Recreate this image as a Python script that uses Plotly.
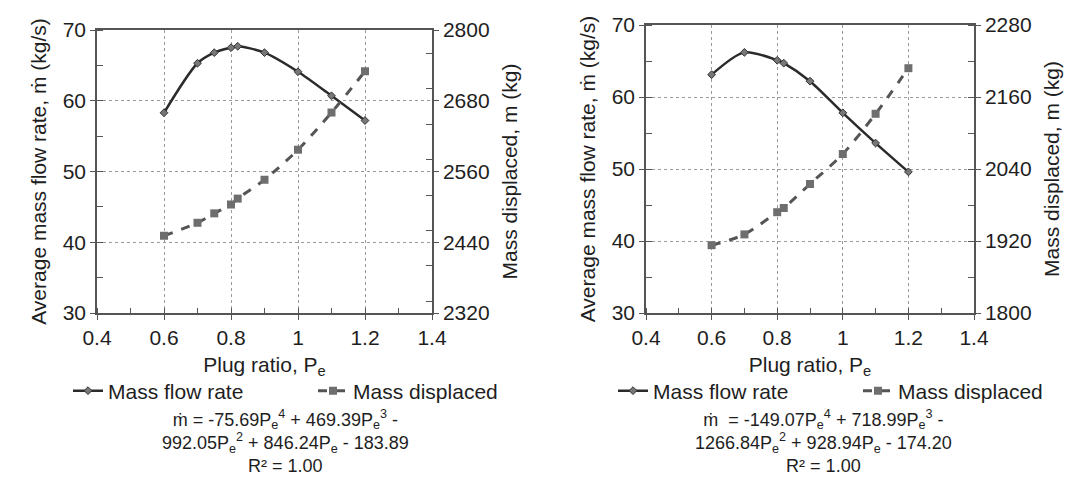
import plotly.graph_objects as go

# ---------------- data ----------------
pe_left = [0.6, 0.7, 0.75, 0.8, 0.82, 0.9, 1.0, 1.1, 1.2]
flow_left = [58.3, 65.3, 66.8, 67.5, 67.7, 66.8, 64.1, 60.7, 57.2]
disp_left = [2451, 2473, 2489, 2504, 2514, 2546, 2597, 2660, 2730]

pe_right = [0.6, 0.7, 0.8, 0.82, 0.9, 1.0, 1.1, 1.2]
flow_right = [63.1, 66.2, 65.1, 64.7, 62.2, 57.8, 53.6, 49.6]
disp_right = [1913, 1931, 1968, 1975, 2015, 2065, 2132, 2208]

x_ticks = [0.4, 0.6, 0.8, 1.0, 1.2, 1.4]
x_ticklabels = ["0.4", "0.6", "0.8", "1", "1.2", "1.4"]
y_ticks = [30, 40, 50, 60, 70]
y2_left_ticks = [2320, 2440, 2560, 2680, 2800]
y2_right_ticks = [1800, 1920, 2040, 2160, 2280]

eq_left = ("ṁ = -75.69P<sub>e</sub><sup>4</sup> + 469.39P<sub>e</sub><sup>3</sup> -<br>"
           "992.05P<sub>e</sub><sup>2</sup> + 846.24P<sub>e</sub> - 183.89<br>R² = 1.00")
eq_right = ("ṁ  = -149.07P<sub>e</sub><sup>4</sup> + 718.99P<sub>e</sub><sup>3</sup> -<br>"
            "1266.84P<sub>e</sub><sup>2</sup> + 928.94P<sub>e</sub> - 174.20<br>R² = 1.00")

# ---------------- styling ----------------
W, H = 1084, 480
FONT = "Liberation Sans, Arial, sans-serif"
TXT = "#1e1e1e"
AX = "#555555"
GRID = "#9a9a9a"

def px_x(p):
    return p / W

def px_y(p):
    return 1 - p / H

fig = go.Figure()

flow_line = dict(color="#2b2b2b", width=2.5, shape="spline", smoothing=0.8)
flow_marker = dict(symbol="diamond", size=6, color="#777777", line=dict(color="#333333", width=1))
disp_line = dict(color="#555555", width=3, dash="dash", shape="spline", smoothing=0.8)
disp_marker = dict(symbol="square", size=8, color="#6e6e6e")

fig.add_trace(go.Scatter(x=pe_left, y=flow_left, name="Mass flow rate", mode="lines+markers",
                         line=flow_line, marker=flow_marker, xaxis="x", yaxis="y", legend="legend"))
fig.add_trace(go.Scatter(x=pe_left, y=disp_left, name="Mass displaced", mode="lines+markers",
                         line=disp_line, marker=disp_marker, xaxis="x", yaxis="y2", legend="legend"))
fig.add_trace(go.Scatter(x=pe_right, y=flow_right, name="Mass flow rate", mode="lines+markers",
                         line=flow_line, marker=flow_marker, xaxis="x2", yaxis="y3", legend="legend2"))
fig.add_trace(go.Scatter(x=pe_right, y=disp_right, name="Mass displaced", mode="lines+markers",
                         line=disp_line, marker=disp_marker, xaxis="x2", yaxis="y4", legend="legend2"))

tickfont = dict(family=FONT, size=21, color=TXT)
titlefont = dict(family=FONT, size=21, color=TXT)

def xaxis(domain, anchor):
    return dict(domain=domain, anchor=anchor, range=[0.4, 1.4], tickvals=x_ticks, ticktext=x_ticklabels,
                showline=True, linecolor=AX, linewidth=1.5, mirror=True, automargin=False,
                ticks="outside", ticklen=5, tickcolor=AX, tickfont=tickfont,
                minor=dict(dtick=0.1, ticks="inside", ticklen=5, tickcolor=AX, showgrid=False),
                showgrid=True, gridcolor=GRID, griddash="dot", gridwidth=1, zeroline=False,
                title=dict(text="Plug ratio, P<sub>e</sub>", font=titlefont, standoff=9))

def yleft(domain, anchor):
    return dict(domain=domain, anchor=anchor, range=[30, 70], tickvals=y_ticks, automargin=False,
                showline=True, linecolor=AX, linewidth=1.5,
                ticks="outside", ticklen=5, tickcolor=AX, tickfont=tickfont,
                minor=dict(dtick=5, ticks="inside", ticklen=6, tickcolor=AX, showgrid=False),
                showgrid=True, gridcolor=GRID, griddash="dot", gridwidth=1, zeroline=False,
                title=dict(text="Average mass flow rate, ṁ (kg/s)", font=titlefont, standoff=10))

def yright(overlay, anchor, rng, ticks):
    return dict(overlaying=overlay, anchor=anchor, side="right", range=rng, tickvals=ticks,
                showline=True, linecolor=AX, linewidth=1.5, automargin=False,
                ticks="outside", ticklen=5, tickcolor=AX, tickfont=tickfont,
                minor=dict(dtick=60, ticks="inside", ticklen=6, tickcolor=AX, showgrid=False),
                showgrid=False, zeroline=False,
                title=dict(text="Mass displaced, m (kg)", font=titlefont, standoff=14))

dom_x_left = [px_x(89), px_x(424)]
dom_x_right = [px_x(638), px_x(966)]
dom_y_left = [px_y(305), px_y(22)]
dom_y_right = [px_y(305), px_y(17)]

legend_common = dict(orientation="h", yanchor="middle", xanchor="left",
                     font=dict(family=FONT, size=21, color=TXT), bgcolor="rgba(0,0,0,0)",
                     entrywidth=200, entrywidthmode="pixels",
                     itemclick=False, itemdoubleclick=False)

eq_font = dict(family=FONT, size=18, color=TXT)

fig.update_layout(
    width=W, height=H, margin=dict(l=0, r=0, t=0, b=0, autoexpand=False),
    paper_bgcolor="white", plot_bgcolor="white",
    font=dict(family=FONT, color=TXT),
    xaxis=xaxis(dom_x_left, "y"),
    yaxis=yleft(dom_y_left, "x"),
    yaxis2=yright("y", "x", [2320, 2800], y2_left_ticks),
    xaxis2=xaxis(dom_x_right, "y3"),
    yaxis3=yleft(dom_y_right, "x2"),
    yaxis4=yright("y3", "x2", [1800, 2280], y2_right_ticks),
    legend=dict(x=px_x(60), y=px_y(383), **legend_common),
    legend2=dict(x=px_x(605), y=px_y(383), **legend_common),
    annotations=[
        dict(text=eq_left, xref="paper", yref="paper", x=px_x(277), y=px_y(470),
             xanchor="center", yanchor="bottom", showarrow=False, align="center", font=eq_font),
        dict(text=eq_right, xref="paper", yref="paper", x=px_x(815), y=px_y(470),
             xanchor="center", yanchor="bottom", showarrow=False, align="center", font=eq_font),
    ],
    showlegend=True,
)

fig.write_html("out.html")
